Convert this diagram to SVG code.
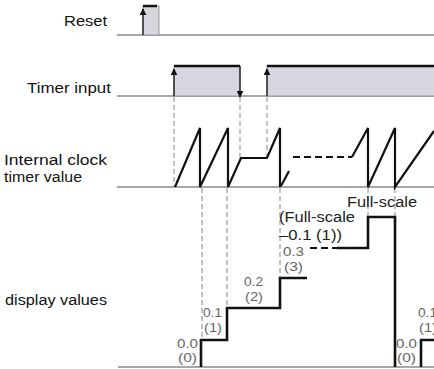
<svg xmlns="http://www.w3.org/2000/svg" width="434" height="369" viewBox="0 0 434 369">
<style>
.bg{fill:#ffffff}
.base{stroke:#8a8a8a;stroke-width:1.5;fill:none}
.pulse{fill:#d6d6de;stroke:#9a9a9a;stroke-width:1}
.top{stroke:#111;stroke-width:2.5;fill:none}
.arrow{stroke:#111;stroke-width:1.3;fill:none}
.guide{stroke:#9a9a9a;stroke-width:1.2;stroke-dasharray:5,3;fill:none}
.wave{stroke:#111;stroke-width:2.2;fill:none;stroke-linejoin:miter}
.wdash{stroke:#111;stroke-width:2.2;fill:none;stroke-dasharray:7,4}
.step{stroke:#111;stroke-width:2.6;fill:none;stroke-linejoin:miter}
.lbl{font-family:"Liberation Sans",Arial,sans-serif;font-size:14px;fill:#111}
.val{font-family:"Liberation Sans",Arial,sans-serif;font-size:12.5px;fill:#666}
.fs{font-family:"Liberation Sans",Arial,sans-serif;font-size:14px;fill:#222}
</style>
<defs>
<marker id="arr" viewBox="0 0 10 10" refX="9" refY="5" markerWidth="7" markerHeight="7" markerUnits="userSpaceOnUse" orient="auto">
<path d="M0,0 L10,5 L0,10 z" fill="#111"/>
</marker>
</defs>
<rect class="bg" x="0" y="0" width="434" height="369"/>

<g id="labels">
<text class="lbl" x="107" y="26" text-anchor="end" textLength="43" lengthAdjust="spacingAndGlyphs">Reset</text>
<text class="lbl" x="111" y="93" text-anchor="end" textLength="84" lengthAdjust="spacingAndGlyphs">Timer input</text>
<text class="lbl" x="4" y="165" textLength="103" lengthAdjust="spacingAndGlyphs">Internal clock</text>
<text class="lbl" x="4" y="182" textLength="78" lengthAdjust="spacingAndGlyphs">timer value</text>
<text class="lbl" x="5" y="305" textLength="102" lengthAdjust="spacingAndGlyphs">display values</text>
</g>

<g id="reset">
<line class="base" x1="117" y1="35" x2="434" y2="35"/>
<rect class="pulse" x="143" y="6" width="16" height="29"/>
<line class="top" x1="143" y1="6" x2="157" y2="6"/>
<line class="arrow" x1="143" y1="35" x2="143" y2="9" marker-end="url(#arr)"/>
</g>

<g id="timer-input">
<line class="base" x1="117" y1="96" x2="434" y2="96"/>
<rect class="pulse" x="174" y="66" width="66" height="30"/>
<rect class="pulse" x="267" y="66" width="170" height="30"/>
<line class="top" x1="174" y1="66" x2="240" y2="66"/>
<line class="top" x1="267" y1="66" x2="434" y2="66"/>
<line class="arrow" x1="174" y1="96" x2="174" y2="69" marker-end="url(#arr)"/>
<line class="arrow" x1="267" y1="96" x2="267" y2="69" marker-end="url(#arr)"/>
<line class="arrow" x1="240" y1="66" x2="240" y2="97" marker-end="url(#arr)"/>
</g>

<g id="connectors">
<line class="guide" x1="174" y1="97" x2="174" y2="187"/>
<line class="guide" x1="240" y1="97" x2="240" y2="158"/>
<line class="guide" x1="267" y1="97" x2="267" y2="158"/>
<line class="guide" x1="202" y1="188" x2="202" y2="340"/>
<line class="guide" x1="227" y1="188" x2="227" y2="308"/>
<line class="guide" x1="280" y1="188" x2="280" y2="278"/>
<line class="guide" x1="368" y1="188" x2="368" y2="217"/>
<line class="guide" x1="395" y1="188" x2="395" y2="217"/>
</g>

<g id="clock">
<line class="base" x1="117" y1="187" x2="434" y2="187"/>
<polyline class="wave" points="175,187 200,128 200,187 228,128 228,187 241,158 267,158 280,128 280,187"/>
<line class="wave" x1="281" y1="186" x2="289" y2="171"/>
<line class="wdash" x1="293" y1="157" x2="352" y2="157"/>
<polyline class="wave" points="352,157 368,128 368,187 395,128 395,187 434,131"/>
</g>

<g id="display">
<line class="base" x1="118" y1="367" x2="434" y2="367"/>
<polyline class="step" points="201,367 201,340 227,340 227,308 280,308 280,278 307,278"/>
<line class="wdash" x1="310" y1="248" x2="338" y2="248"/>
<polyline class="step" points="337,248 368,248 368,217 395,217 395,367"/>
<polyline class="step" points="421,367 421,340 436,340"/>
</g>

<g id="values">
<text class="val" x="177" y="348" textLength="21" lengthAdjust="spacingAndGlyphs">0.0</text>
<text class="val" x="178" y="362" textLength="19" lengthAdjust="spacingAndGlyphs">(0)</text>
<text class="val" x="203" y="317" textLength="19" lengthAdjust="spacingAndGlyphs">0.1</text>
<text class="val" x="204" y="332" textLength="18" lengthAdjust="spacingAndGlyphs">(1)</text>
<text class="val" x="244" y="286" textLength="19" lengthAdjust="spacingAndGlyphs">0.2</text>
<text class="val" x="245" y="301" textLength="18" lengthAdjust="spacingAndGlyphs">(2)</text>
<text class="val" x="283" y="256" textLength="21" lengthAdjust="spacingAndGlyphs">0.3</text>
<text class="val" x="284" y="271" textLength="19" lengthAdjust="spacingAndGlyphs">(3)</text>
<text class="val" x="396" y="348" textLength="21" lengthAdjust="spacingAndGlyphs">0.0</text>
<text class="val" x="397" y="362" textLength="19" lengthAdjust="spacingAndGlyphs">(0)</text>
<text class="val" x="418" y="317" textLength="19" lengthAdjust="spacingAndGlyphs">0.1</text>
<text class="val" x="419" y="332" textLength="18" lengthAdjust="spacingAndGlyphs">(1)</text>
<text class="fs" x="347" y="207" textLength="70" lengthAdjust="spacingAndGlyphs">Full-scale</text>
<text class="fs" x="279" y="222" textLength="76" lengthAdjust="spacingAndGlyphs">(Full-scale</text>
<text class="fs" x="279" y="240" textLength="63" lengthAdjust="spacingAndGlyphs">–0.1 (1))</text>
</g>
</svg>
